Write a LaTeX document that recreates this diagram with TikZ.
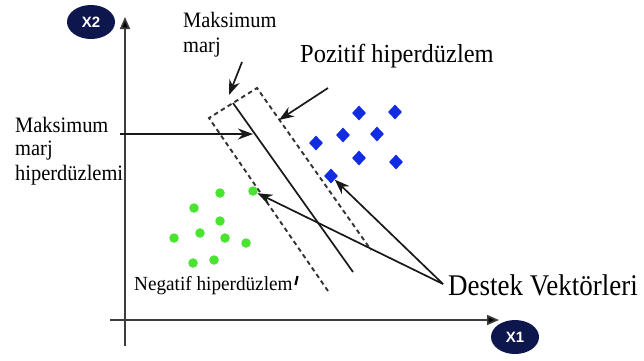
\documentclass[tikz,border=0pt]{standalone}
\usepackage{fontspec}
\usepackage{graphicx}
\setmainfont{Liberation Serif}
\newfontfamily\axfont{Liberation Sans}
\usetikzlibrary{arrows.meta,shapes.geometric}
\definecolor{navy}{RGB}{14,22,78}
\definecolor{dblue}{RGB}{18,45,225}
\definecolor{dgreen}{RGB}{72,228,48}
\definecolor{axgray}{RGB}{60,60,60}
\tikzset{
  axisline/.style={draw=axgray, line width=1.7pt, -{Triangle[length=12pt,width=10pt,fill=black]}},
  axislabel/.style={ellipse, fill=navy, text=white, minimum width=48pt, minimum height=34pt, inner sep=0pt, font=\axfont\bfseries\fontsize{15}{15}\selectfont},
  pointer/.style={draw=black!90, line width=1.7pt, -{Stealth[length=15pt,width=11pt]}},
  marginline/.style={draw=black!80, line width=1.9pt, dash pattern=on 4.5pt off 3.5pt},
  hyper/.style={draw=black!90, line width=1.7pt},
  pospt/.style={diamond, fill=dblue, inner sep=0pt, minimum width=14pt, minimum height=15pt},
  negpt/.style={circle, fill=dgreen, inner sep=0pt, minimum size=9.5pt},
  lbl/.style={inner sep=0pt, anchor=base west, text=black},
}
\begin{document}
\begin{tikzpicture}[x=1pt,y=-1pt]
\useasboundingbox[fill=white] (0,0) rectangle (644,360);
% axes
\coordinate (yb) at (125,346);
\coordinate (yt) at (125,17);
\coordinate (xl) at (110,320);
\coordinate (xr) at (499,320);
\draw[axisline] (yb) -- (yt);
\draw[axisline] (xl) -- (xr);
\node[axislabel] (x2) at (91,22) {X2};
\node[axislabel] (x1) at (515,337) {X1};
% margin box
\coordinate (tl) at (209,118);
\coordinate (tr) at (257,88);
\coordinate (br) at (371,250);
\coordinate (bl) at (328,291);
\draw[marginline] (bl) -- (tl) -- (tr) -- (br);
\coordinate (hs) at (233,103);
\coordinate (he) at (353,272);
\draw[hyper] (hs) -- (he);
% positive points
\node[pospt] (p1) at (359,113) {};
\node[pospt] (p2) at (395,112) {};
\node[pospt] (p3) at (343,135) {};
\node[pospt] (p4) at (377,134) {};
\node[pospt] (p5) at (316,143) {};
\node[pospt] (p6) at (359,158) {};
\node[pospt] (p7) at (396,162) {};
\node[pospt] (svp) at (331,176) {};
% negative points
\node[negpt] (n1) at (194,208) {};
\node[negpt] (n2) at (220,193) {};
\node[negpt] (svn) at (253,191) {};
\node[negpt] (n3) at (220,221) {};
\node[negpt] (n4) at (174,238) {};
\node[negpt] (n5) at (200,233) {};
\node[negpt] (n6) at (225,238) {};
\node[negpt] (n7) at (246,243) {};
\node[negpt] (n8) at (193,263) {};
\node[negpt] (n9) at (214,260) {};
% labels
\node[lbl, font=\fontsize{22}{25}\selectfont] (mm) at (183,27) {\scalebox{0.93}[1]{Maksimum}};
\node[lbl, font=\fontsize{22}{25}\selectfont] (mm2) at (183,52) {\scalebox{0.93}[1]{marj}};
\node[lbl, font=\fontsize{26}{30}\selectfont] (pz) at (300,62) {\scalebox{0.94}[1]{Pozitif hiperdüzlem}};
\node[lbl, font=\fontsize{22}{25}\selectfont] (mh1) at (15,132) {\scalebox{0.93}[1]{Maksimum}};
\node[lbl, font=\fontsize{22}{25}\selectfont] (mh2) at (15,155) {\scalebox{0.93}[1]{marj}};
\node[lbl, font=\fontsize{22}{25}\selectfont] (mh3) at (15,180) {\scalebox{0.93}[1]{hiperdüzlemi}};
\node[lbl, font=\fontsize{20}{24}\selectfont] (ng) at (134,290) {\scalebox{0.96}[1]{Negatif hiperdüzlem}};
\node[lbl, font=\fontsize{30}{34}\selectfont] (dv) at (448,295) {\scalebox{0.9}[1]{Destek Vektörleri}};
% small tick after Negatif
\coordinate (tk1) at (297.5,276);
\coordinate (tk2) at (295.5,285);
\draw[line width=2.2pt] (tk1) -- (tk2);
% pointers
\coordinate (mma) at (242,62);
\coordinate (mmb) at (229,95);
\draw[pointer] (mma) -- (mmb);
\coordinate (pza) at (328,88);
\coordinate (pzb) at (279,120);
\draw[pointer] (pza) -- (pzb);
\coordinate (mha) at (120,134);
\coordinate (mhb) at (253,134);
\draw[pointer] (mha) -- (mhb);
\coordinate (dva) at (443,284);
\draw[pointer] (dva) -- (svp);
\draw[pointer] (dva) -- (svn);
\end{tikzpicture}
\end{document}
